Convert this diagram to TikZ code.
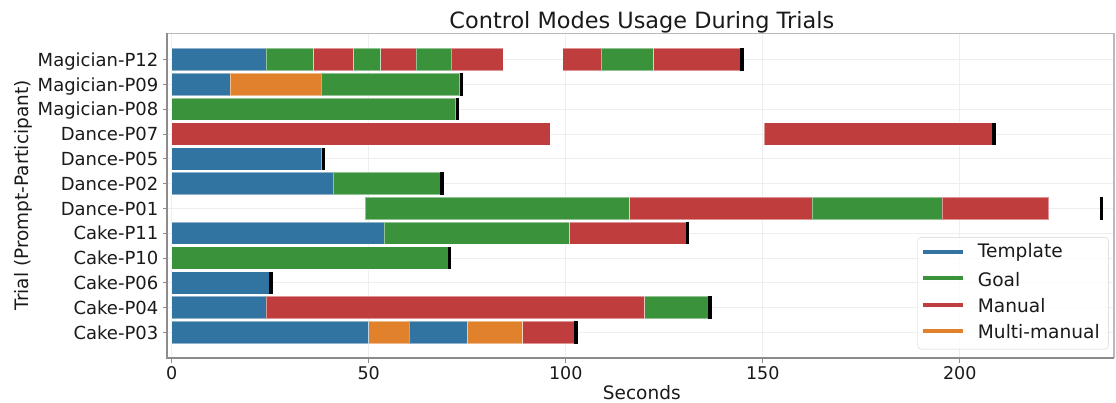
\documentclass[tikz,border=0pt]{standalone}
\usepackage{fontspec}
\setmainfont{DejaVu Sans}
\definecolor{cB}{HTML}{3274A1}
\definecolor{cG}{HTML}{3A923A}
\definecolor{cR}{HTML}{C03D3E}
\definecolor{cO}{HTML}{E1812C}
\definecolor{gridc}{HTML}{EEEEEE}
\definecolor{spinec}{HTML}{8C8C8C}
\definecolor{txtc}{HTML}{1A1A1A}
\newcommand\mseg[4]{\path[fill=#4,draw=white,draw opacity=0.45,line width=0.7pt] ({171.7+3.94*#2},{59.6+24.8*#1-11.15}) rectangle ({171.7+3.94*#3},{59.6+24.8*#1+11.15});}
\newcommand\mend[2]{\path[fill=black] ({171.7+3.94*#2},{59.6+24.8*#1-11.15}) rectangle ({171.7+3.94*#2+3.5},{59.6+24.8*#1+11.15});}
\begin{document}
\begin{tikzpicture}[x=1pt,y=-1pt,
  yticklab/.style={font=\fontsize{18}{21}\selectfont,text=txtc,inner sep=0pt},
  xticklab/.style={font=\fontsize{17.5}{21}\selectfont,text=txtc,inner sep=0pt},
  axlab/.style={font=\fontsize{18.5}{21}\selectfont,text=txtc,inner sep=0pt},
  legtxt/.style={font=\fontsize{18.6}{21}\selectfont,text=txtc,inner sep=0pt,anchor=west},
  legline/.style={line width=4pt},
  gridline/.style={draw=gridc,line width=0.9pt},
  spine/.style={draw=spinec,line width=1.1pt},
  tickmark/.style={draw=spinec,line width=0.9pt}]
\useasboundingbox (0,0) rectangle (1116,403);
% grid
\foreach \t in {0,50,100,150,200} {
  \draw[gridline] ({171.7+3.94*\t},33.3) -- ({171.7+3.94*\t},358);
}
\foreach \i in {0,...,11} {
  \draw[gridline] (167,{59.6+24.8*\i}) -- (1114,{59.6+24.8*\i});
}
% Magician-P12
\mseg{0}{0}{24}{cB}\mseg{0}{24}{36}{cG}\mseg{0}{36}{46.2}{cR}\mseg{0}{46.2}{53}{cG}
\mseg{0}{53}{62}{cR}\mseg{0}{62}{71}{cG}\mseg{0}{71}{84.1}{cR}
\mseg{0}{99.2}{109}{cR}\mseg{0}{109}{122.3}{cG}\mseg{0}{122.3}{144.3}{cR}\mend{0}{144.3}
% Magician-P09
\mseg{1}{0}{14.8}{cB}\mseg{1}{14.8}{38}{cO}\mseg{1}{38}{73.1}{cG}\mend{1}{73.1}
% Magician-P08
\mseg{2}{0}{72.1}{cG}\mend{2}{72.1}
% Dance-P07
\mseg{3}{0}{96}{cR}\mseg{3}{150.3}{208.3}{cR}\mend{3}{208.3}
% Dance-P05
\mseg{4}{0}{38.1}{cB}\mend{4}{38.1}
% Dance-P02
\mseg{5}{0}{41}{cB}\mseg{5}{41}{68.1}{cG}\mend{5}{68.1}
% Dance-P01
\mseg{6}{49.1}{116.2}{cG}\mseg{6}{116.2}{162.5}{cR}\mseg{6}{162.5}{195.5}{cG}\mseg{6}{195.5}{222.6}{cR}\mend{6}{235.6}
% Cake-P11
\mseg{7}{0}{54}{cB}\mseg{7}{54}{101}{cG}\mseg{7}{101}{130.5}{cR}\mend{7}{130.5}
% Cake-P10
\mseg{8}{0}{70.1}{cG}\mend{8}{70.1}
% Cake-P06
\mseg{9}{0}{24.8}{cB}\mend{9}{24.8}
% Cake-P04
\mseg{10}{0}{23.9}{cB}\mseg{10}{23.9}{120}{cR}\mseg{10}{120}{136.2}{cG}\mend{10}{136.2}
% Cake-P03
\mseg{11}{0}{50}{cB}\mseg{11}{50}{60.2}{cO}\mseg{11}{60.2}{75.1}{cB}\mseg{11}{75.1}{89.1}{cO}\mseg{11}{89.1}{102.2}{cR}\mend{11}{102.2}
% spines
\draw[spine,draw=spinec!60] (167,33.3) -- (1114,33.3) -- (1114,358);
\draw[spine] (167,33.3) -- (167,358) -- (1114,358);
% y ticks and labels
\foreach \n [count=\k from 0] in {Magician-P12,Magician-P09,Magician-P08,Dance-P07,Dance-P05,Dance-P02,Dance-P01,Cake-P11,Cake-P10,Cake-P06,Cake-P04,Cake-P03} {
  \draw[tickmark] (163,{59.6+24.8*\k}) -- (167,{59.6+24.8*\k});
  \node[yticklab,anchor=base east] (yl\k) at (158.5,{59.6+24.8*\k+6.8}) {\n};
}
% x ticks and labels
\foreach \t in {0,50,100,150,200} {
  \draw[tickmark] ({171.7+3.94*\t},358) -- ({171.7+3.94*\t},362.5);
  \node[xticklab,anchor=base] (xl\t) at ({171.7+3.94*\t},379.3) {\t};
}
% axis labels and title
\node[axlab,anchor=base] (xlabel) at (641.8,399) {Seconds};
\node[axlab,rotate=90,anchor=base] (ylabel) at (28.5,195.5) {Trial (Prompt-Participant)};
\node[font=\fontsize{22.4}{26}\selectfont,text=txtc,inner sep=0pt,anchor=base] (title) at (641.8,28.7) {Control Modes Usage During Trials};
% legend
\node[draw=gray!35,fill=white,fill opacity=0.8,rounded corners=3pt,minimum width=190.6pt,minimum height=111.7pt,inner sep=0pt] (legbox) at (1013,293.2) {};
\coordinate (l1a) at (923,251.7); \coordinate (l1b) at (963,251.7);
\coordinate (l2a) at (923,278.3); \coordinate (l2b) at (963,278.3);
\coordinate (l3a) at (923,304.7); \coordinate (l3b) at (963,304.7);
\coordinate (l4a) at (923,331);   \coordinate (l4b) at (963,331);
\draw[legline,cB] (l1a) -- (l1b);
\draw[legline,cG] (l2a) -- (l2b);
\draw[legline,cR] (l3a) -- (l3b);
\draw[legline,cO] (l4a) -- (l4b);
\node[legtxt] (lt1) at (977.7,252.5) {Template};
\node[legtxt] (lt2) at (977.7,279.1) {Goal};
\node[legtxt] (lt3) at (977.7,305.5) {Manual};
\node[legtxt] (lt4) at (977.7,331.8) {Multi-manual};
\end{tikzpicture}
\end{document}
